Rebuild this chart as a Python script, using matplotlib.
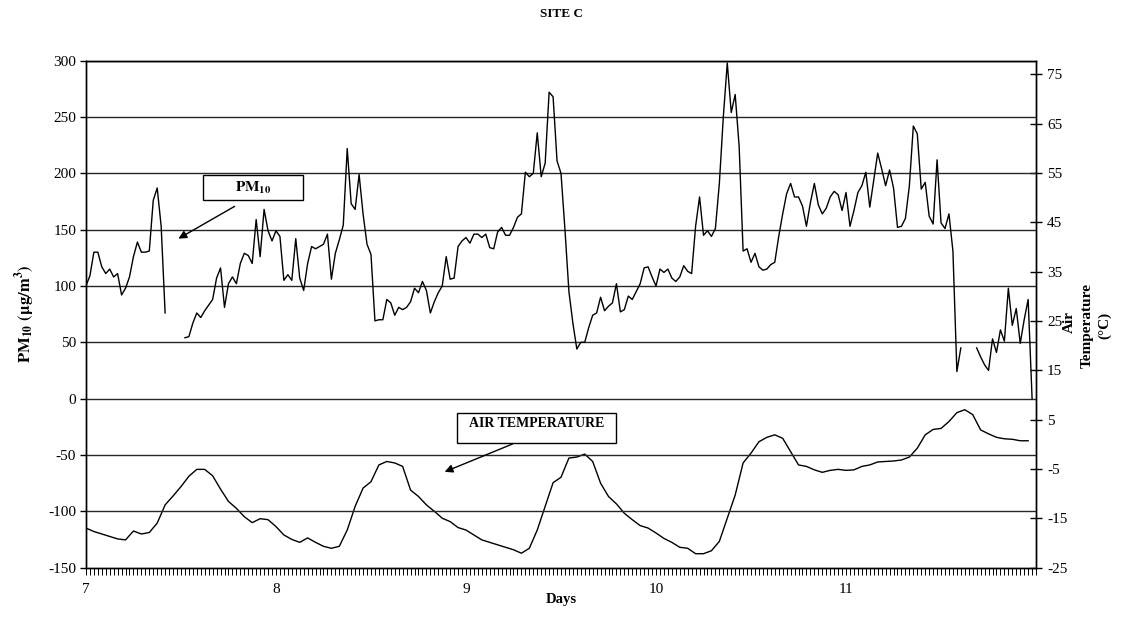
import numpy as np
import matplotlib
matplotlib.use('Agg')
import matplotlib.pyplot as plt
from matplotlib.patches import Rectangle

plt.rcParams['font.family'] = ['Liberation Serif', 'DejaVu Serif']
plt.rcParams['mathtext.fontset'] = 'stix'
plt.rcParams['axes.linewidth'] = 1.0
plt.rcParams['axes.unicode_minus'] = False

nan = np.nan

# PM10, half-hourly readings starting at day 7 (ug/m3), gaps where the monitor dropped out
pm10 = [100, 109, 130, 130, 117, 111, 115, 108, 111, 92, 98, 108, 126, 139, 130, 130, 131, 176, 187, 153, 76,
        nan, nan, nan, nan,
        54, 55, 67, 76, 72, 78, 83, 88, 107, 116, 81, 102, 108, 102, 120, 129, 127, 120, 159, 126, 168, 149, 140,
        149, 144, 105, 110, 105, 142, 107, 96, 120, 135, 133, 135, 137, 146, 106, 129, 141, 154, 222, 173, 168,
        199, 164, 137, 128, 69, 70, 70, 88, 85, 74, 81, 79, 81, 86, 98, 94, 104, 96, 76, 86, 94, 100, 126, 106,
        107, 135, 140, 143,
        138, 146, 146, 143, 146, 134, 133, 148, 152, 145, 145, 152, 161, 164, 201, 197, 200, 236, 197, 209, 272,
        268, 211, 200, 150, 95, 67, 44, 50, 50, 63, 74, 76, 90, 78, 82, 85, 102, 77, 79, 91, 88, 95, 102, 116,
        117, 108, 100,
        115, 112, 115, 107, 104, 108, 118, 113, 111, 153, 179, 145, 149, 144, 151, 191, 250, 298, 254, 270, 224,
        131, 133, 121, 129, 117, 114, 115, 119, 121, 144, 164, 182, 191, 179, 179, 171, 153, 174, 191, 172, 164,
        169, 179, 184, 181, 167, 183,
        153, 167, 183, 189, 201, 170, 194, 218, 204, 189, 203, 187, 152, 153, 160, 189, 242, 235, 186, 192, 162,
        155, 212, 156, 151, 164, 131, 24, 45,
        nan, nan, nan,
        45, 37, 30, 25, 53, 41, 61, 51, 98, 65, 80, 49, 70, 88, 0]

# air temperature, hourly (deg C)
air_temp = [-17.0, -17.7, -18.2, -18.7, -19.2, -19.4, -17.6, -18.2, -17.9, -16.0, -12.3, -10.5, -8.6, -6.5,
            -5.1, -5.1, -6.4, -9.1, -11.6, -13.0, -14.7, -15.9, -15.1, -15.3,
            -16.7, -18.4, -19.3, -19.9, -19.0, -19.9, -20.7, -21.1, -20.7, -17.4, -12.6, -8.9, -7.6, -4.2,
            -3.5, -3.8, -4.5, -9.3, -10.6, -12.3, -13.6, -15.0, -15.7, -16.9,
            -17.4, -18.4, -19.4, -19.9, -20.4, -20.9, -21.4, -22.1, -21.1, -17.4, -12.6, -7.8, -6.7, -2.8,
            -2.6, -2.0, -3.5, -7.9, -10.6, -12.1, -14.0, -15.3, -16.5, -17.0,
            -18.0, -19.1, -19.9, -20.9, -21.1, -22.2, -22.2, -21.6, -19.7, -15.0, -10.3, -3.8, -1.8, 0.5,
            1.4, 1.9, 1.2, -1.5, -4.2, -4.5, -5.2, -5.7,
            -5.3, -5.1, -5.3, -5.2, -4.5, -4.2, -3.6, -3.5, -3.4, -3.2, -2.6, -0.8, 1.9, 3.0, 3.2, 4.6,
            6.4, 7.0, 6.0, 2.9, 2.1, 1.4, 1.1, 1.0, 0.7, 0.7]

pm_days = 7 + np.arange(len(pm10)) / 48.0
t_days = 7 + np.arange(len(air_temp)) / 24.0

day_ticks = [7, 8, 9, 10, 11]
pm_ticks = np.arange(-150, 301, 50)
t_ticks = np.arange(-25, 76, 10)

fig = plt.figure(figsize=(11.22, 6.17), dpi=100)
ax = fig.add_axes([0.0766, 0.0802, 0.8468, 0.8214])
ax2 = ax.twinx()

ax.set_zorder(ax2.get_zorder() + 1)
ax.patch.set_visible(False)

for yv in pm_ticks[1:]:
    ax.axhline(yv, color='0.15', lw=1.0, zorder=1)

ax.plot(pm_days, pm10, color='black', lw=1.0, zorder=3)
ax2.plot(t_days, air_temp, color='black', lw=1.0)

ax.set_xlim(7, 12)
ax.set_ylim(-150, 300)
ax2.set_ylim(-25, 77.76)

ax.set_xticks(day_ticks)
# half-hour tick marks along the time axis
ax.set_xticks(7 + np.arange(0, 241) / 48.0, minor=True)
ax.set_yticks(pm_ticks)
ax2.set_yticks(t_ticks)

ax.tick_params(axis='x', which='both', direction='out', length=5, width=0.7, labelsize=11, pad=6)
ax.tick_params(axis='y', direction='out', length=4, width=1.0, labelsize=11, pad=3)
ax2.tick_params(axis='y', direction='inout', length=8, width=1.0, labelsize=11, pad=4)

ax.set_ylabel(r'$\mathbf{PM_{10}\ (\mu g/m^{3})}$', fontsize=12, labelpad=8)
ax.set_xlabel('Days', fontsize=10.5, fontweight='bold', labelpad=-2)
fig.text(0.5, 0.978, 'SITE C', ha='center', va='center', fontsize=9.5, fontweight='bold')

# right-hand axis title, one rotated line each
fig.text(1069 / 1122, 1 - 322 / 617, 'Air', rotation=90, ha='center', va='center',
         fontsize=11, fontweight='bold')
fig.text(1087 / 1122, 1 - 325 / 617, 'Temperature', rotation=90, ha='center', va='center',
         fontsize=11, fontweight='bold')
fig.text(1105 / 1122, 1 - 325 / 617, '(°C)', rotation=90, ha='center', va='center',
         fontsize=11, fontweight='bold')

# series labels
ax.add_patch(Rectangle((7.616, 176.3), 0.526, 22.2, facecolor='white', edgecolor='black',
                       lw=1.0, zorder=5))
ax.text(7.879, 187.4, r'$\mathbf{PM_{10}}$', ha='center', va='center', fontsize=11, zorder=6)
ax.annotate('', xy=(7.474, 140.8), xytext=(7.795, 171.9),
            arrowprops=dict(arrowstyle='-|>', color='black', lw=1.0, mutation_scale=12), zorder=6)

ax.add_patch(Rectangle((8.953, -39.4), 0.836, 26.6, facecolor='white', edgecolor='black',
                       lw=1.0, zorder=5))
ax.text(9.371, -21.7, 'AIR TEMPERATURE', ha='center', va='center', fontsize=10,
        fontweight='bold', zorder=6)
ax.annotate('', xy=(8.874, -66.0), xytext=(9.258, -39.4),
            arrowprops=dict(arrowstyle='-|>', color='black', lw=1.0, mutation_scale=12), zorder=6)

fig.savefig('out.png', dpi=100)
